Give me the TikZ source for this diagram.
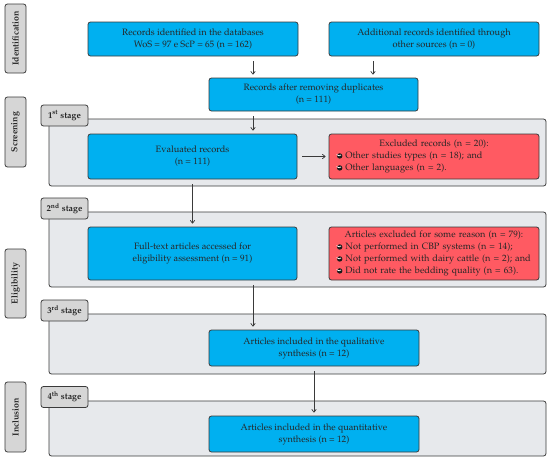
\documentclass[tikz,border=0pt]{standalone}
\usepackage[T1]{fontenc}
\usepackage{mathpazo}
\usetikzlibrary{arrows.meta,positioning,calc}
\usepackage{xcolor}
\definecolor{Ink}{HTML}{3A3A3A}
\definecolor{BoxBlue}{HTML}{00B0F0}
\definecolor{BoxRed}{HTML}{FF5A62}
\definecolor{PanelGray}{HTML}{E7E9EC}
\definecolor{TabGray}{HTML}{D6D6D6}
\newcommand{\chkbullet}{\tikz[baseline=-0.6ex]{\fill[black!90] (0,0) circle (2.7pt);
  \draw[white,line width=0.7pt] (-1.3pt,0.1pt) -- (-0.3pt,-1pt) -- (1.3pt,1.1pt);}}
\tikzset{
  base/.style={draw=Ink,line width=0.8pt,rounded corners=2.5pt,inner sep=2pt,
    font=\fontsize{9.2}{12}\selectfont,text=black!85},
  bluebox/.style={base,fill=BoxBlue,align=center},
  redbox/.style={base,fill=BoxRed,align=left,inner xsep=8pt},
  panel/.style={draw=Ink,line width=0.8pt,rounded corners=2.5pt,fill=PanelGray},
  stagetab/.style={base,fill=TabGray,minimum width=47pt,minimum height=21pt,
    font=\fontsize{8.8}{10}\selectfont\bfseries},
  sidelab/.style={base,fill=TabGray,rotate=90,minimum height=21pt,
    font=\fontsize{8.8}{10}\selectfont\bfseries},
  arr/.style={-{To[length=3.5pt,width=5pt]},Ink,line width=0.7pt,
    shorten <=5pt,shorten >=3pt}
}
\begin{document}
\begin{tikzpicture}[x=1pt,y=-1pt]
\useasboundingbox (0,0) rectangle (550,458);
% phase labels
\node[sidelab,minimum width=69pt] (idlab) at (15.5,38.5) {Identification};
\node[sidelab,minimum width=70pt] (scrlab) at (15.5,132) {Screening};
\node[sidelab,minimum width=69pt] (elilab) at (15.5,283.5) {Eligibility};
\node[sidelab,minimum width=70pt] (inclab) at (15.5,417) {Inclusion};
% stage panels
\draw[panel] (49,119) rectangle (546,186);
\draw[panel] (49,212) rectangle (546,287);
\draw[panel] (49,314) rectangle (546,374);
\draw[panel] (49,401) rectangle (546,456);
\node[stagetab] (tab1) at (64.5,115.5) {1\textsuperscript{st} stage};
\node[stagetab] (tab2) at (64.5,208.5) {2\textsuperscript{nd} stage};
\node[stagetab] (tab3) at (64.5,310.5) {3\textsuperscript{rd} stage};
\node[stagetab] (tab4) at (64.5,397) {4\textsuperscript{th} stage};
% identification
\node[bluebox,minimum width=210pt,minimum height=34pt] (db) at (193,39)
  {Records identified in the databases\\WoS = 97 e ScP = 65 (n = 162)};
\node[bluebox,minimum width=210pt,minimum height=34pt] (other) at (434,39)
  {Additional records identified through\\other sources (n = 0)};
\node[bluebox,minimum width=209pt,minimum height=33pt] (dup) at (313.5,94.5)
  {Records after removing duplicates\\(n = 111)};
% screening
\node[bluebox,minimum width=209pt,minimum height=45pt] (eval) at (192.5,156.5)
  {Evaluated records\\(n = 111)};
\node[redbox,text width=194pt,minimum height=45pt] (excl) at (434,156.5)
  {\makebox[\linewidth][c]{Excluded records (n = 20):}\\
   \chkbullet\ Other studies types (n = 18); and\\
   \chkbullet\ Other languages (n = 2).};
% eligibility
\node[bluebox,minimum width=209pt,minimum height=53pt] (full) at (192.5,253.5)
  {Full-text articles accessed for\\eligibility assessment (n = 91)};
\node[redbox,text width=194pt,minimum height=53pt] (artexcl) at (434,253.5)
  {\makebox[\linewidth][c]{Articles excluded for some reason (n = 79):}\\
   \chkbullet\ Not performed in CBP systems (n = 14);\\
   \chkbullet\ Not performed with dairy cattle (n = 2); and\\
   \chkbullet\ Did not rate the bedding quality (n = 63).};
% inclusion
\node[bluebox,minimum width=210pt,minimum height=36pt] (qual) at (314,348)
  {Articles included in the qualitative\\synthesis (n = 12)};
\node[bluebox,minimum width=210pt,minimum height=36pt] (quant) at (314,434)
  {Articles included in the quantitative\\synthesis (n = 12)};
% connectors
\draw[arr] ([xshift=60pt]db.south) -- ([xshift=60pt]db.south |- dup.north);
\draw[arr] ([xshift=-61pt]other.south) -- ([xshift=-61pt]other.south |- dup.north);
\draw[arr] ([xshift=-60.5pt]dup.south) -- ([xshift=-60.5pt]dup.south |- eval.north);
\draw[arr] (eval) -- (excl);
\draw[arr] (eval) -- (full);
\draw[arr] ([xshift=60.5pt]full.south) -- ([xshift=60.5pt]full.south |- qual.north);
\draw[arr] (qual) -- (quant);
\end{tikzpicture}
\end{document}
